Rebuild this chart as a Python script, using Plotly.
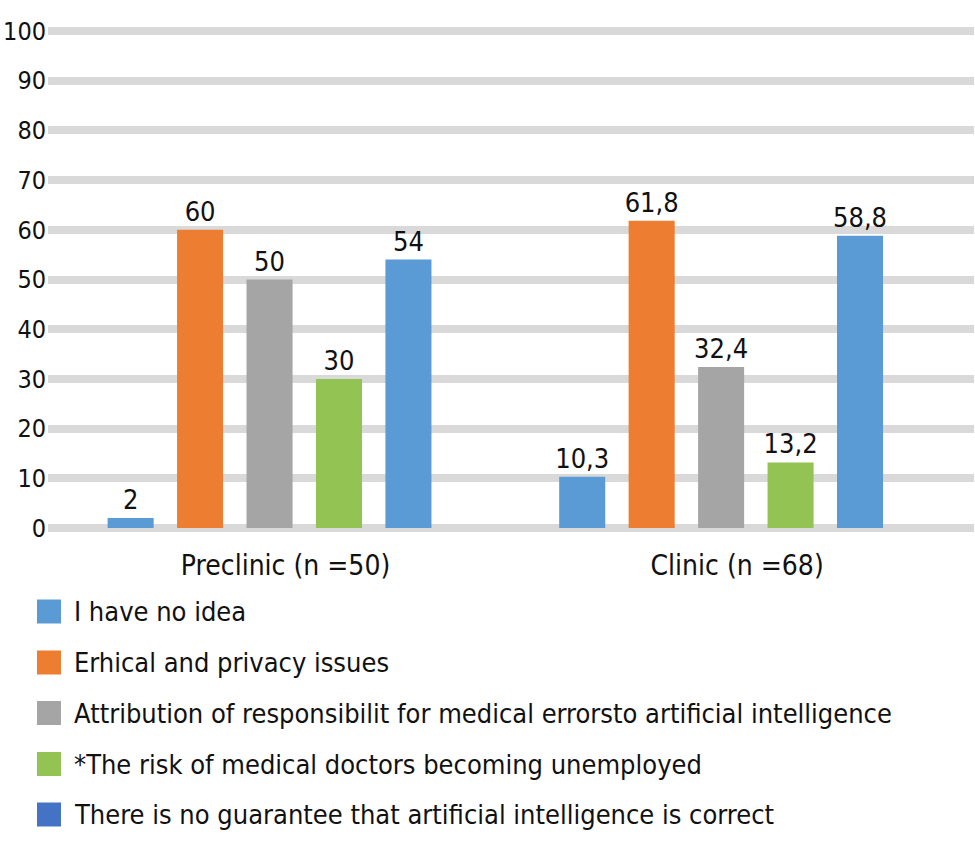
import plotly.graph_objects as go

categories = ["Preclinic (n =50)", "Clinic (n =68)"]
series_names = [
    "I have no idea",
    "Erhical and privacy issues",
    "Attribution of responsibilit for medical errorsto artificial intelligence",
    "*The risk of medical doctors becoming unemployed",
    "There is no guarantee that artificial intelligence is correct",
]
no_idea = [2, 10.3]
ethical = [60, 61.8]
attribution = [50, 32.4]
unemployed = [30, 13.2]
no_guarantee = [54, 58.8]
series_values = [no_idea, ethical, attribution, unemployed, no_guarantee]
y_ticks = list(range(0, 101, 10))

bar_colors = ["#5B9BD5", "#ED7D31", "#A5A5A5", "#92C353", "#5B9BD5"]
legend_colors = ["#5B9BD5", "#ED7D31", "#A5A5A5", "#92C353", "#4472C4"]

FONT = "DejaVu Sans Condensed, Roboto Condensed, Liberation Sans Narrow, Roboto, sans-serif"
W, H = 975, 844
L, R, T, B = 48, 1, 21, 306
PW, PH = W - L - R, H - T - B


def fmt(v):
    return f"{v:g}".replace(".", ",")


fig = go.Figure()
for name, vals, col in zip(series_names, series_values, bar_colors):
    fig.add_trace(go.Bar(
        name=name, x=categories, y=vals,
        marker=dict(color=col, line=dict(width=0)),
        text=[fmt(v) for v in vals], textposition="outside",
        textfont=dict(family=FONT, size=27, color="#111111"),
        constraintext="none", cliponaxis=False, showlegend=False,
    ))

# manual legend
legend_rows_y = [611.5, 662.5, 713, 764, 814.5]
shapes, annotations = [], []
for name, col, py in zip(series_names, legend_colors, legend_rows_y):
    x0, x1 = 37, 61
    shapes.append(dict(
        type="rect", xref="paper", yref="paper",
        x0=(x0 - L) / PW, x1=(x1 - L) / PW,
        y0=1 - (py + 12 - T) / PH, y1=1 - (py - 12 - T) / PH,
        fillcolor=col, line=dict(width=0),
    ))
    annotations.append(dict(
        text=name, xref="paper", yref="paper",
        x=(72 - L) / PW, y=1 - (py - T) / PH,
        xanchor="left", yanchor="middle", showarrow=False,
        font=dict(family=FONT, size=27, color="#111111"),
    ))

fig.update_layout(
    width=W, height=H,
    margin=dict(l=L, r=R, t=T, b=B, pad=0, autoexpand=False),
    paper_bgcolor="white", plot_bgcolor="white",
    barmode="group", bargap=0.231, bargroupgap=0.337,
    shapes=shapes, annotations=annotations,
    showlegend=False,
    xaxis=dict(
        range=[-0.4906, 1.560], showgrid=False, zeroline=False, showline=False,
        automargin=False,
        ticks="", tickfont=dict(family=FONT, size=28, color="#111111"),
        ticklabelshift=16, ticklabelstandoff=8,
    ),
    yaxis=dict(
        range=[-2, 102], tickvals=y_ticks, ticktext=[str(t) for t in y_ticks],
        showgrid=True, gridcolor="#D9D9D9", gridwidth=8,
        zeroline=False, showline=False, ticks="", automargin=False,
        tickfont=dict(family=FONT, size=25, color="#111111"),
        ticklabelstandoff=1,
    ),
)

fig.write_html("out.html")
